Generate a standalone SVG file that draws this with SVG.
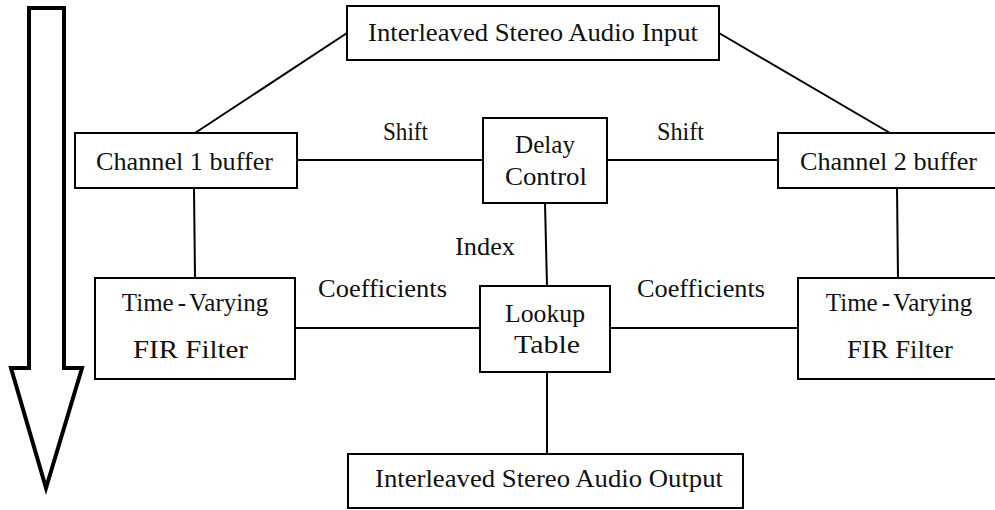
<svg xmlns="http://www.w3.org/2000/svg" width="995" height="510" viewBox="0 0 995 510">
<style>
.box{fill:#fff;stroke:#000;stroke-width:2}
.ln{stroke:#000;stroke-width:2;fill:none}
.t{font-family:"Liberation Serif","DejaVu Serif",serif;font-size:25px;fill:#111;text-anchor:middle}
</style>
<rect width="995" height="510" fill="#fff"/>
<g id="flow-arrow">
<polygon points="29,8 64,8 64,368 82,368 46,488 11,368 29,368" fill="#fff" stroke="#000" stroke-width="4" stroke-linejoin="miter"/>
</g>
<g id="connectors" class="ln">
<line x1="195" y1="133" x2="347" y2="33"/>
<line x1="719" y1="33" x2="890" y2="133"/>
<line x1="297" y1="160" x2="483" y2="160"/>
<line x1="607" y1="160" x2="778" y2="160"/>
<line x1="194" y1="188" x2="195" y2="278"/>
<line x1="897" y1="188" x2="898" y2="278"/>
<line x1="545" y1="203" x2="547" y2="286"/>
<line x1="295" y1="328" x2="480" y2="328"/>
<line x1="610" y1="328" x2="798" y2="328"/>
<line x1="547" y1="372" x2="547" y2="454"/>
</g>
<g id="labels">
<text class="t" x="405.5" y="140" textLength="45" lengthAdjust="spacingAndGlyphs">Shift</text>
<text class="t" x="680.5" y="140" textLength="47" lengthAdjust="spacingAndGlyphs">Shift</text>
<text class="t" x="485" y="255" textLength="60" lengthAdjust="spacingAndGlyphs">Index</text>
<text class="t" x="382.5" y="297" textLength="129" lengthAdjust="spacingAndGlyphs">Coefficients</text>
<text class="t" x="701" y="297" textLength="128" lengthAdjust="spacingAndGlyphs">Coefficients</text>
</g>
<g id="input">
<rect class="box" x="347" y="6" width="372" height="54"/>
<text class="t" x="533" y="41" textLength="330" lengthAdjust="spacingAndGlyphs">Interleaved Stereo Audio Input</text>
</g>
<g id="ch1">
<rect class="box" x="75" y="133" width="222" height="55"/>
<text class="t" x="184.5" y="170" textLength="177" lengthAdjust="spacingAndGlyphs">Channel 1 buffer</text>
</g>
<g id="delay">
<rect class="box" x="483" y="118" width="124" height="85"/>
<text class="t" x="545" y="153" textLength="60" lengthAdjust="spacingAndGlyphs">Delay</text>
<text class="t" x="546" y="185" textLength="82" lengthAdjust="spacingAndGlyphs">Control</text>
</g>
<g id="ch2">
<rect class="box" x="778" y="133" width="225" height="55"/>
<text class="t" x="888.5" y="170" textLength="177" lengthAdjust="spacingAndGlyphs">Channel 2 buffer</text>
</g>
<g id="fir1">
<rect class="box" x="95" y="278" width="200" height="101"/>
<text class="t" x="195" y="311">Time<tspan dx="4">-</tspan><tspan dx="3">Varying</tspan></text>
<text class="t" x="190.5" y="358" textLength="115" lengthAdjust="spacingAndGlyphs">FIR Filter</text>
</g>
<g id="lookup">
<rect class="box" x="480" y="286" width="130" height="86"/>
<text class="t" x="545" y="322" textLength="80" lengthAdjust="spacingAndGlyphs">Lookup</text>
<text class="t" x="547" y="353" textLength="66" lengthAdjust="spacingAndGlyphs">Table</text>
</g>
<g id="fir2">
<rect class="box" x="798" y="278" width="205" height="101"/>
<text class="t" x="899" y="311">Time<tspan dx="4">-</tspan><tspan dx="3">Varying</tspan></text>
<text class="t" x="900" y="358" textLength="106" lengthAdjust="spacingAndGlyphs">FIR Filter</text>
</g>
<g id="output">
<rect class="box" x="348" y="454" width="395" height="54"/>
<text class="t" x="549" y="487" textLength="348" lengthAdjust="spacingAndGlyphs">Interleaved Stereo Audio Output</text>
</g>
</svg>
